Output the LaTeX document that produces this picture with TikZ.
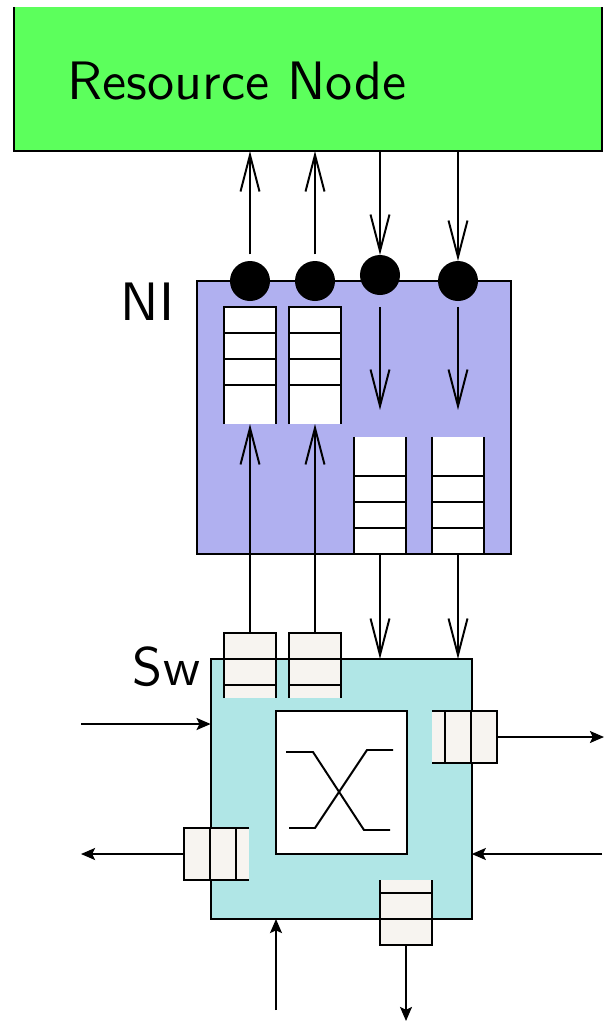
\documentclass[tikz,border=0pt]{standalone}
\usepackage{fontspec}
\newfontfamily\lmsten{lmsans10-regular.otf}
\usetikzlibrary{arrows.meta,calc}
\definecolor{rngreen}{RGB}{92,255,92}
\definecolor{niblue}{RGB}{176,176,240}
\definecolor{swcyan}{RGB}{176,230,230}
\definecolor{qbeige}{RGB}{247,244,240}
\tikzset{
  box/.style={rectangle, inner sep=0pt, outer sep=0pt},
  dot/.style={circle, fill=black, minimum size=1cm, inner sep=0pt, outer sep=0pt},
  lbl/.style={font=\lmsten\fontsize{38.5}{45}\selectfont, inner sep=0pt, anchor=base west},
  bigarrow/.style={-{Straight Barb[length=26pt,width=13.5pt]}},
  smallarrow/.style={-{Stealth[length=10pt,width=8.5pt,inset=2pt]}},
}
\begin{document}
\begin{tikzpicture}[x=0.025cm, y=-0.025cm, line width=1.4pt]
\useasboundingbox (0,0) rectangle (604,1021);

% resource node
\node[box, fill=rngreen, minimum width=14.7cm, minimum height=3.6cm] (rn) at (308,79) {};
\draw (rn.north west) |- (rn.south east) -- (rn.north east);
\node[lbl] (rntext) at (67,99) {Resource Node};

% network interface
\node[box, draw, fill=niblue, minimum width=7.85cm, minimum height=6.825cm] (ni) at (354,417.5) {};
\node[lbl] (nitext) at (120,320.5) {NI};
\node[box, fill=white, minimum width=1.3cm, minimum height=2.925cm] (q1) at (250,365.5) {};
\node[box, fill=white, minimum width=1.3cm, minimum height=2.925cm] (q2) at (315,365.5) {};
\node[box, fill=white, minimum width=1.3cm, minimum height=2.925cm] (q3) at (380,495.5) {};
\node[box, fill=white, minimum width=1.3cm, minimum height=2.925cm] (q4) at (458,495.5) {};
\foreach \q in {q1,q2}{
  \draw (\q.south west) |- (\q.north east) -- (\q.south east);
  \foreach \k in {1,2,3}
    \draw ($(\q.north west)+(0,26*\k)$) -- ($(\q.north east)+(0,26*\k)$);
}
\foreach \q in {q3,q4}{
  \draw (\q.north west) |- (\q.south east) -- (\q.north east);
  \foreach \k in {1,2,3}
    \draw ($(\q.south west)+(0,-26*\k)$) -- ($(\q.south east)+(0,-26*\k)$);
}
\node[dot] (d1) at (250,281) {};
\node[dot] (d2) at (315,281) {};
\node[dot] (d3) at (380,275) {};
\node[dot] (d4) at (458,281) {};

% switch
\node[box, draw, fill=swcyan, minimum width=6.525cm, minimum height=6.5cm] (sw) at (341.2,789) {};
\node[lbl] (swtext) at (132,685.5) {Sw};
\node[box, fill=qbeige, minimum width=1.3cm, minimum height=1.625cm] (s1) at (250,665.5) {};
\node[box, fill=qbeige, minimum width=1.3cm, minimum height=1.625cm] (s2) at (315,665.5) {};
\node[box, fill=qbeige, minimum width=1.625cm, minimum height=1.3cm] (rq) at (464.5,737) {};
\node[box, fill=qbeige, minimum width=1.625cm, minimum height=1.3cm] (lq) at (216.5,854) {};
\node[box, fill=qbeige, minimum width=1.3cm, minimum height=1.625cm] (bq) at (406,912.5) {};
\foreach \q in {s1,s2}{
  \draw (\q.south west) |- (\q.north east) -- (\q.south east);
  \foreach \k in {1,2}
    \draw ($(\q.north west)+(0,26*\k)$) -- ($(\q.north east)+(0,26*\k)$);
}
\draw (rq.north west) -| (rq.south east) -- (rq.south west);
\draw (lq.north east) -| (lq.south west) -- (lq.south east);
\draw (bq.north west) |- (bq.south east) -- (bq.north east);
\foreach \k in {1,2}{
  \draw ($(rq.north east)+(-26*\k,0)$) -- ($(rq.south east)+(-26*\k,0)$);
  \draw ($(lq.north west)+(26*\k,0)$) -- ($(lq.south west)+(26*\k,0)$);
  \draw ($(bq.south west)+(0,-26*\k)$) -- ($(bq.south east)+(0,-26*\k)$);
}
% crossbar
\node[box, draw, fill=white, minimum width=3.275cm, minimum height=3.575cm] (xb) at (341.5,782.5) {};
\draw (286,752) -- (313,752) -- (364,830) -- (390,830);
\draw (289,828) -- (315,828) -- (367,750) -- (393,750);

% links node <-> NI
\draw[bigarrow, shorten <=0.1625cm] (d1.north) -- (rn.south -| d1.north);
\draw[bigarrow, shorten <=0.1625cm] (d2.north) -- (rn.south -| d2.north);
\draw[bigarrow] (rn.south -| d3.north) -- (d3.north);
\draw[bigarrow] (rn.south -| d4.north) -- (d4.north);
\draw[bigarrow, shorten >=0.675cm] (q1.north -| q3.north) -- (q3.north);
\draw[bigarrow, shorten >=0.675cm] (q1.north -| q4.north) -- (q4.north);

% links NI <-> Sw
\draw[bigarrow] (s1.north) -- (q1.south);
\draw[bigarrow] (s2.north) -- (q2.south);
\draw[bigarrow] (q3.south) -- (sw.north -| q3.south);
\draw[bigarrow] (q4.south) -- (sw.north -| q4.south);

% switch ports
\coordinate (inl) at (81,724);
\coordinate (inr) at (602,854);
\coordinate (inb) at (276,1010);
\coordinate (outl) at (81,854);
\coordinate (outr) at (604,737);
\coordinate (outb) at (406,1021);
\draw[smallarrow] (inl) -- (sw.west |- inl);
\draw[smallarrow] (inr) -- (sw.east |- inr);
\draw[smallarrow] (inb) -- (sw.south -| inb);
\draw[smallarrow] (lq.west) -- (outl);
\draw[smallarrow] (rq.east) -- (outr);
\draw[smallarrow] (bq.south) -- (outb);
\end{tikzpicture}
\end{document}
